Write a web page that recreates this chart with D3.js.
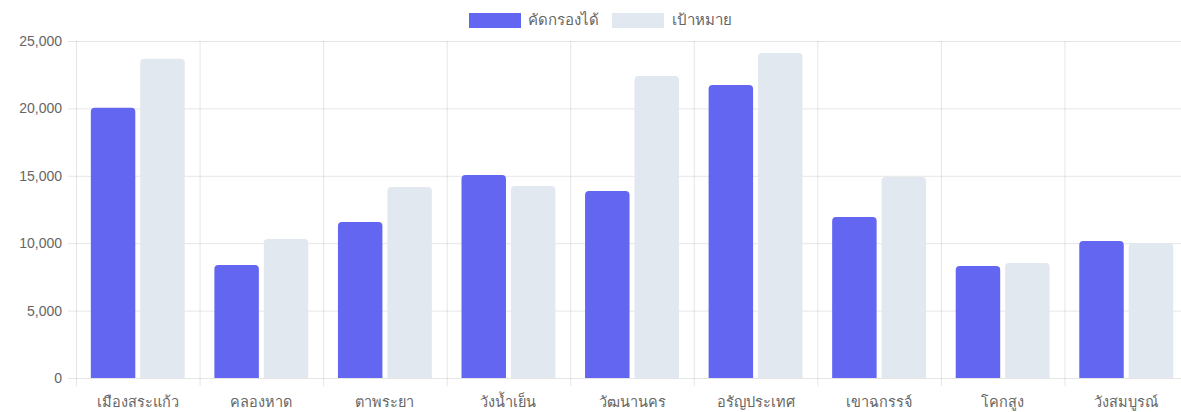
<!DOCTYPE html>
<html>
<head>
<meta charset="utf-8">
<script src="https://cdn.jsdelivr.net/npm/d3@7"></script>
<style>
  body { margin: 0; background: #fff; }
  svg { display: block; font-family: "Noto Sans", "Open Sans", sans-serif; }
</style>
</head>
<body>
<svg id="chart" width="1181" height="412"></svg>
<script>
"use strict";

// data
const districts = ["เมืองสระแก้ว", "คลองหาด", "ตาพระยา", "วังน้ำเย็น", "วัฒนานคร", "อรัญประเทศ", "เขาฉกรรจ์", "โคกสูง", "วังสมบูรณ์"];
const screened = [20050, 8380, 11570, 15060, 13870, 21740, 11940, 8310, 10160];
const target = [23680, 10320, 14170, 14240, 22400, 24110, 14910, 8530, 10010];
const seriesNames = ["คัดกรองได้", "เป้าหมาย"];
const seriesColors = ["#6366f1", "#e2e8f0"];
const yTicks = [0, 5000, 10000, 15000, 20000, 25000];

const svg = d3.select("#chart");

const margin = { top: 41, left: 76, right: -7, bottom: 34 };
const width = 1181;
const height = 412;

const x = d3
  .scaleBand()
  .domain(districts)
  .range([margin.left, width - margin.right]);

const inner = d3
  .scaleBand()
  .domain(seriesNames)
  .range([0, x.bandwidth() * 0.8]);

const y = d3
  .scaleLinear()
  .domain([0, 25000])
  .range([height - margin.bottom, margin.top]);

const gridColor = "rgba(0,0,0,0.1)";

// horizontal grid + y labels
const yAxis = svg
  .append("g")
  .attr("transform", `translate(${margin.left},0)`)
  .call(
    d3
      .axisLeft(y)
      .tickValues(yTicks)
      .tickSize(-(width - margin.left + 10))
      .tickPadding(14)
      .tickFormat(d3.format(","))
  );
yAxis.select(".domain").remove();
yAxis.selectAll(".tick line").attr("stroke", gridColor).attr("x1", -8);
yAxis
  .selectAll(".tick text")
  .attr("fill", "#666")
  .style("font-size", "14px");

// vertical grid lines between categories
const vlines = districts.map((d) => x(d)).concat([x.range()[1]]);
svg
  .append("g")
  .selectAll("line")
  .data(vlines)
  .join("line")
  .attr("x1", (d) => d + 0.5)
  .attr("x2", (d) => d + 0.5)
  .attr("y1", margin.top)
  .attr("y2", height - margin.bottom + 8)
  .attr("stroke", gridColor);

// x labels
svg
  .append("g")
  .selectAll("text")
  .data(districts)
  .join("text")
  .attr("x", (d) => x(d) + x.bandwidth() / 2)
  .attr("y", height - 5)
  .attr("text-anchor", "middle")
  .attr("fill", "#666")
  .style("font-size", "14.5px")
  .text((d) => d);

// bars - rounded top only
function barPath(x0, w, yTop, yBot, r) {
  return `M${x0},${yBot}V${yTop + r}Q${x0},${yTop} ${x0 + r},${yTop}H${x0 + w - r}Q${x0 + w},${yTop} ${x0 + w},${yTop + r}V${yBot}Z`;
}

const series = [screened, target];
const barW = inner.bandwidth() * 0.9;

series.forEach((vals, i) => {
  svg
    .append("g")
    .selectAll("path")
    .data(vals)
    .join("path")
    .attr("d", (v, j) => {
      const x0 =
        x(districts[j]) +
        x.bandwidth() * 0.1 +
        inner(seriesNames[i]) +
        (inner.bandwidth() - barW) / 2;
      return barPath(x0, barW, y(v), y(0), 4);
    })
    .attr("fill", seriesColors[i]);
});

// legend
const legend = svg.append("g").attr("transform", "translate(469,13)");
const legendPos = [0, 143];
seriesNames.forEach((name, i) => {
  const item = legend.append("g").attr("transform", `translate(${legendPos[i]},0)`);
  item
    .append("rect")
    .attr("width", 52)
    .attr("height", 15)
    .attr("fill", seriesColors[i]);
  item
    .append("text")
    .attr("x", i === 0 ? 59 : 60)
    .attr("y", 12)
    .attr("fill", "#666")
    .style("font-size", "15px")
    .text(name);
});
</script>
</body>
</html>
